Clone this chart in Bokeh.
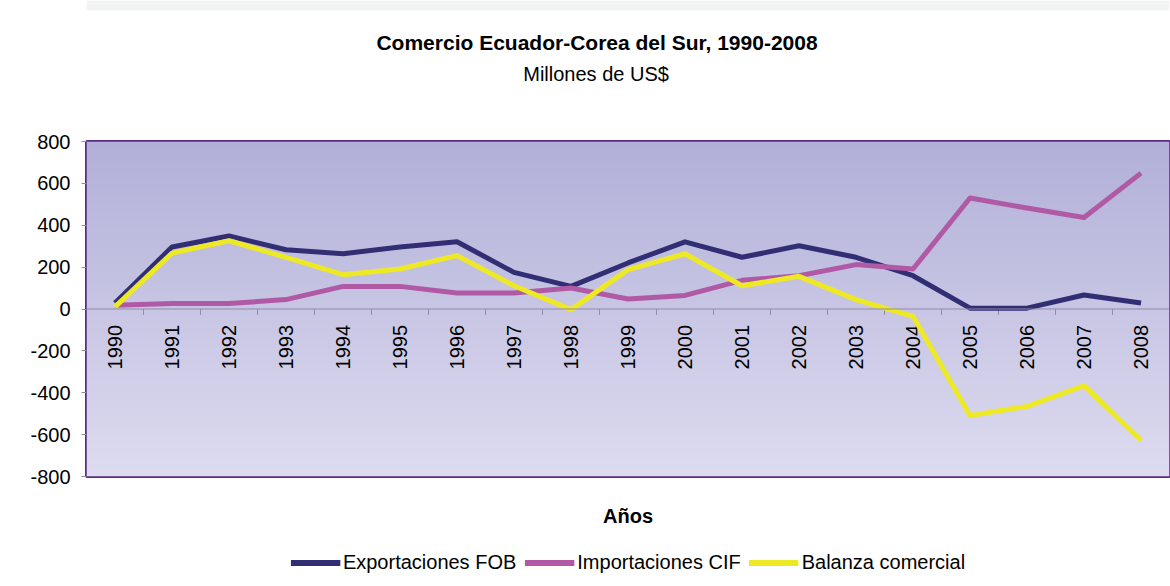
import numpy as np
from bokeh.plotting import figure
from bokeh.layouts import column
from bokeh.models import Range1d, Span, Legend, LegendItem, Label, FixedTicker
from bokeh.core.properties import value
from bokeh.embed import file_html
from bokeh.resources import INLINE

# ---- data (millones de US$) ----
years = ["1990", "1991", "1992", "1993", "1994", "1995", "1996", "1997", "1998", "1999",
         "2000", "2001", "2002", "2003", "2004", "2005", "2006", "2007", "2008"]
exportaciones = [28, 296, 349, 283, 264, 296, 321, 175, 108, 220,
                 321, 247, 302, 247, 159, 4, 4, 67, 29]
importaciones = [18, 26, 26, 45, 108, 108, 76, 76, 100, 48,
                 65, 137, 159, 212, 191, 530, 482, 437, 649]
balanza = [10, 267, 326, 247, 164, 191, 255, 111, -3, 188,
           264, 111, 156, 45, -35, -509, -465, -366, -627]
y_ticks = [-800, -600, -400, -200, 0, 200, 400, 600, 800]
series_names = ["Exportaciones FOB", "Importaciones CIF", "Balanza comercial"]
title_text = "Comercio Ecuador-Corea del Sur, 1990-2008"
subtitle_text = "Millones de US$"
x_title = "Años"

FONT = "Liberation Sans"
C_EXP = "#322e74"
C_IMP = "#b05aa6"
C_BAL = "#ede925"
C_BORDER = "#5e2a84"
W = 1170
LEFT = 86

# ---------------- title strip (frame aligned with the chart frame) ----------------
TOP_H = 100
ptop = figure(width=W, height=TOP_H, output_backend="svg", toolbar_location=None,
              x_range=Range1d(LEFT, W), y_range=Range1d(0, TOP_H),
              x_axis_location=None, y_axis_location=None,
              min_border_left=LEFT, min_border_right=0, min_border_top=0, min_border_bottom=0,
              outline_line_color=None, border_fill_color="white", background_fill_color="white")
ptop.xgrid.visible = False
ptop.ygrid.visible = False
ptop.quad(left=[LEFT], right=[W], bottom=[TOP_H - 10], top=[TOP_H], fill_color="#f2f3f3", line_color=None)
ptop.add_layout(Label(x=597, y=TOP_H - 42, text=title_text, text_align="center", text_baseline="middle",
                      text_font=FONT, text_font_size="21px", text_font_style="bold", text_color="black"))
ptop.add_layout(Label(x=596, y=TOP_H - 73, text=subtitle_text, text_align="center", text_baseline="middle",
                      text_font=FONT, text_font_size="20px", text_color="black"))

# ---------------- main chart ----------------
x = list(range(len(years)))
p = figure(width=W, height=446, output_backend="svg", toolbar_location=None,
           x_range=Range1d(-0.5, len(years) - 0.5), y_range=Range1d(y_ticks[0], y_ticks[-1]),
           min_border_left=LEFT, min_border_right=1, min_border_top=41, min_border_bottom=70,
           border_fill_color="white", background_fill_color="white",
           outline_line_color=C_BORDER, outline_line_width=3)

# gradient background of the plot area
n = 200
t = np.linspace(0.0, 1.0, n)[:, None]
top = np.array([178, 176, 216]); bot = np.array([222, 220, 240])
rgb = (bot + (top - bot) * t).astype(np.uint8)
img = np.empty((n, 1), dtype=np.uint32)
view = img.view(dtype=np.uint8).reshape((n, 1, 4))
view[:, 0, 0] = rgb[:, 0]; view[:, 0, 1] = rgb[:, 1]; view[:, 0, 2] = rgb[:, 2]; view[:, 0, 3] = 255
p.image_rgba(image=[img], x=p.x_range.start, y=p.y_range.start,
             dw=p.x_range.end - p.x_range.start, dh=p.y_range.end - p.y_range.start)

p.xgrid.visible = False
p.ygrid.visible = False

# zero line acting as category axis
p.add_layout(Span(location=0, dimension="width", line_color="#8d8ba6", line_width=1))
tick_x = [i + 0.5 for i in x[:-1]]
p.segment(x0=tick_x, y0=[0] * len(tick_x), x1=tick_x, y1=[-28] * len(tick_x),
          line_color="#8d8ba6", line_width=1)
p.text(x=x, y=[0] * len(x), text=years, angle=np.pi / 2, text_align="right",
       text_baseline="middle", y_offset=16, text_font=value(FONT),
       text_font_size="20px", text_color="black")

colors = [C_EXP, C_IMP, C_BAL]
all_series = [exportaciones, importaciones, balanza]
for ys, c in zip(all_series, colors):
    p.line(x, ys, line_color=c, line_width=5, line_join="round")

# y axis
yax = p.yaxis[0]
yax.ticker = FixedTicker(ticks=y_ticks)
yax.major_label_overrides = {t: str(t) for t in y_ticks}
yax.axis_line_color = None
yax.major_tick_in = 0
yax.major_tick_out = 5
yax.major_tick_line_color = "#8c8c8c"
yax.minor_tick_line_color = None
yax.major_label_standoff = 11
yax.major_label_text_font = FONT
yax.major_label_text_font_size = "20px"
yax.major_label_text_color = "black"

# x axis (only its title)
xax = p.xaxis[0]
xax.ticker = FixedTicker(ticks=[])
xax.axis_line_color = None
xax.major_tick_line_color = None
xax.minor_tick_line_color = None
xax.major_tick_out = 0
xax.major_label_standoff = 0
xax.axis_label = x_title
xax.axis_label_standoff = 28
xax.axis_label_text_font = FONT
xax.axis_label_text_font_size = "20px"
xax.axis_label_text_font_style = "bold"
xax.axis_label_text_color = "black"

# ---------------- legend strip ----------------
# lines here exist only to carry the legend styling; the view range keeps them out of sight
pleg = figure(width=W, height=40, output_backend="svg", toolbar_location=None,
              x_range=Range1d(0, 1), y_range=Range1d(5000, 6000),
              x_axis_location=None, y_axis_location=None,
              min_border_left=LEFT, min_border_right=1, min_border_top=0, min_border_bottom=8,
              outline_line_color=None, border_fill_color="white", background_fill_color="white")
pleg.xgrid.visible = False
pleg.ygrid.visible = False
items = []
for name, ys, c in zip(series_names, all_series, colors):
    r = pleg.line(x=x, y=ys, line_color=c, line_width=6)
    items.append(LegendItem(label=name, renderers=[r]))
legend = Legend(items=items, orientation="horizontal", location="center",
                glyph_width=50, glyph_height=20, label_standoff=3, spacing=8,
                padding=4, margin=0, border_line_color=None, background_fill_alpha=0,
                label_text_font=FONT, label_text_font_size="20px", label_text_color="black")
pleg.add_layout(legend)

layout = column(ptop, p, pleg, spacing=0)
open("out.html", "w").write(file_html(layout, INLINE))
